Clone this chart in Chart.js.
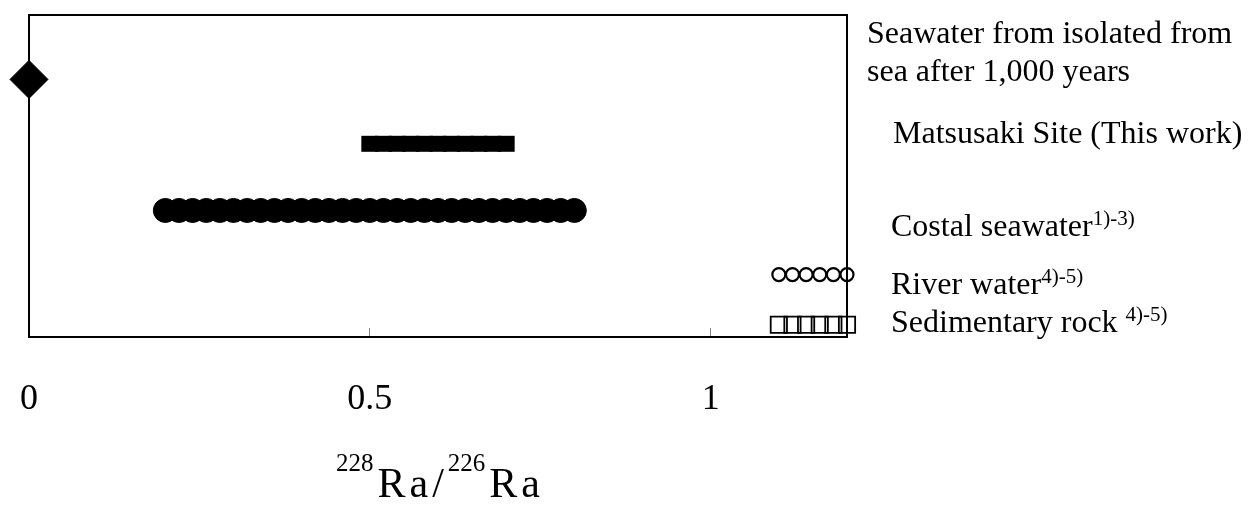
<!DOCTYPE html>
<html>
<head>
<meta charset="utf-8">
<script src="https://cdn.jsdelivr.net/npm/chart.js@4/dist/chart.umd.min.js"></script>
<style>
  body { margin: 0; background: #fff; }
  #wrap { width: 1255px; height: 505px; }
</style>
</head>
<body>
<div id="wrap"><canvas id="raChart" width="1255" height="505"></canvas></div>
<script>
// Data
const xTicks = [0, 0.5, 1];
const xTickLabels = ['0', '0.5', '1'];

// row level of each group on the hidden vertical axis
const rowIsolated = 8;
const rowMatsusaki = 6;
const rowCoastal = 3.93;
const rowRiver = 1.94;
const rowRock = 0.38;

const isolatedX = [0];
const matsusakiX = [0.50, 0.52, 0.54, 0.56, 0.58, 0.60, 0.62, 0.64, 0.66, 0.68, 0.70];
const coastalX = [0.20, 0.22, 0.24, 0.26, 0.28, 0.30, 0.32, 0.34, 0.36, 0.38, 0.40,
                  0.42, 0.44, 0.46, 0.48, 0.50, 0.52, 0.54, 0.56, 0.58, 0.60,
                  0.62, 0.64, 0.66, 0.68, 0.70, 0.72, 0.74, 0.76, 0.78, 0.80];
const riverX = [1.10, 1.12, 1.14, 1.16, 1.18, 1.20];
const rockX = [1.10, 1.12, 1.14, 1.16, 1.18, 1.20];

// Text on the right of the frame
const sideLabels = [
    { text: 'Seawater from isolated from', sup: '', x: 867, y: 43 },
    { text: 'sea after 1,000 years', sup: '', x: 867, y: 81 },
    { text: 'Matsusaki Site (This work)', sup: '', x: 893, y: 143 },
    { text: 'Costal seawater', sup: '1)-3)', x: 891, y: 236 },
    { text: 'River water', sup: '4)-5)', x: 891, y: 294 },
    { text: 'Sedimentary rock ', sup: '4)-5)', x: 891, y: 332 }
];

const serif = '"Liberation Serif", "Times New Roman", serif';

function toPoints(xs, level) {
    return xs.map(v => ({ x: v, y: level }));
}

// Frame round the plot area
const framePlugin = {
    id: 'frame',
    beforeDatasetsDraw(chart) {
        const a = chart.chartArea;
        const ctx = chart.ctx;
        ctx.save();
        ctx.strokeStyle = '#000';
        ctx.lineWidth = 2;
        ctx.strokeRect(a.left, a.top, a.right - a.left, a.bottom - a.top);
        ctx.restore();
    }
};

// Right-hand labels and the axis title with superscripts
const textPlugin = {
    id: 'texts',
    afterDraw(chart) {
        const ctx = chart.ctx;
        ctx.save();
        ctx.fillStyle = '#000';
        ctx.textBaseline = 'alphabetic';
        ctx.textAlign = 'left';
        sideLabels.forEach(l => {
            ctx.font = '32px ' + serif;
            ctx.fillText(l.text, l.x, l.y);
            if (l.sup) {
                const w = ctx.measureText(l.text).width;
                ctx.font = '21px ' + serif;
                ctx.fillText(l.sup, l.x + w, l.y - 11);
            }
        });

        // 228Ra/226Ra
        const parts = [
            ['228', true], ['R', false], ['a', false], ['/', false],
            ['226', true], ['R', false], ['a', false]
        ];
        const gap = 4;
        const fontOf = sup => (sup ? '25px ' : '42px ') + serif;
        let total = 0;
        parts.forEach(p => {
            ctx.font = fontOf(p[1]);
            total += ctx.measureText(p[0]).width + gap;
        });
        total -= gap;
        const a = chart.chartArea;
        let x = (a.left + a.right) / 2 - total / 2;
        const base = a.bottom + 160;
        parts.forEach(p => {
            ctx.font = fontOf(p[1]);
            ctx.fillText(p[0], x, p[1] ? base - 26 : base);
            x += ctx.measureText(p[0]).width + gap;
        });
        ctx.restore();
    }
};

new Chart(document.getElementById('raChart').getContext('2d'), {
    type: 'scatter',
    data: {
        datasets: [
            {
                label: 'Seawater from isolated from sea after 1,000 years',
                data: toPoints(isolatedX, rowIsolated),
                pointStyle: 'rectRot',
                radius: 19,
                backgroundColor: '#000',
                borderColor: '#000',
                borderWidth: 1,
                clip: false
            },
            {
                label: 'Matsusaki Site (This work)',
                data: toPoints(matsusakiX, rowMatsusaki),
                pointStyle: 'line',
                radius: 8.5,
                borderColor: '#000',
                borderWidth: 16,
                clip: false
            },
            {
                label: 'Costal seawater',
                data: toPoints(coastalX, rowCoastal),
                pointStyle: 'circle',
                radius: 12,
                backgroundColor: '#000',
                borderColor: '#000',
                borderWidth: 1,
                clip: false
            },
            {
                label: 'River water',
                data: toPoints(riverX, rowRiver),
                pointStyle: 'circle',
                radius: 6.5,
                backgroundColor: 'rgba(0,0,0,0)',
                borderColor: '#000',
                borderWidth: 2.2,
                clip: false
            },
            {
                label: 'Sedimentary rock',
                data: toPoints(rockX, rowRock),
                pointStyle: 'rect',
                radius: 11.5,
                backgroundColor: 'rgba(0,0,0,0)',
                borderColor: '#000',
                borderWidth: 1.8,
                clip: false
            }
        ]
    },
    options: {
        responsive: false,
        animation: false,
        layout: { autoPadding: false, padding: { left: 29, right: 408, top: 15, bottom: 0 } },
        plugins: {
            legend: { display: false },
            tooltip: { enabled: false }
        },
        scales: {
            x: {
                type: 'linear',
                min: 0,
                max: 1.2,
                afterBuildTicks: scale => {
                    scale.ticks = xTicks.map(v => ({ value: v }));
                },
                afterFit: scale => {
                    scale.height = 168;
                    scale.paddingLeft = 0;
                    scale.paddingRight = 0;
                },
                border: { display: false },
                grid: {
                    drawOnChartArea: false,
                    drawTicks: true,
                    tickLength: -9,
                    color: '#888',
                    lineWidth: 1
                },
                ticks: {
                    color: '#000',
                    padding: 50,
                    font: { family: serif, size: 36 },
                    callback: (value, index) => xTickLabels[index]
                }
            },
            y: {
                display: false,
                min: 0,
                max: 10
            }
        }
    },
    plugins: [framePlugin, textPlugin]
});
</script>
</body>
</html>
